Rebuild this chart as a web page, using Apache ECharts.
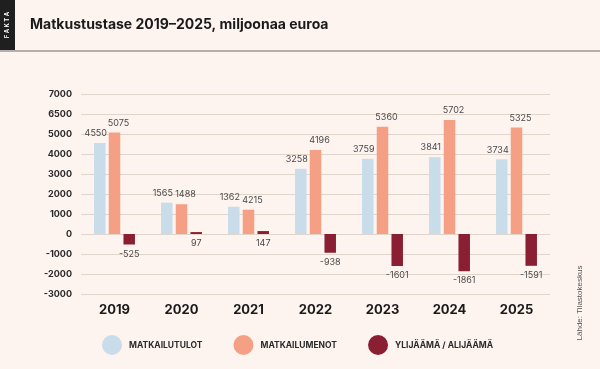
<!DOCTYPE html>
<html>
<head>
<meta charset="utf-8">
<script src="https://cdn.jsdelivr.net/npm/echarts@6/dist/echarts.min.js"></script>
<style>
html,body{margin:0;padding:0;background:#fdf4f0;}
#c{width:600px;height:369px;}
</style>
</head>
<body>
<div id="c"></div>
<script>
const years = ['2019','2020','2021','2022','2023','2024','2025'];
const tulot = [4550,1565,1362,3258,3759,3841,3734];
const menot = [5075,1488,1215,4196,5360,5702,5325];
const menotLabels = ['5075','1488','4215','4196','5360','5702','5325'];
const saldo = [-525,97,147,-938,-1601,-1861,-1591];
const yTickLabels = ['-3000','-2000','-1000','0','1000','2000','3000','4000','5000','6500','7000'];
const seriesNames = ['MATKAILUTULOT','MATKAILUMENOT','YLIJÄÄMÄ / ALIJÄÄMÄ'];
const colors = ['#c8dcea','#f5a085','#8a1f33'];

const chart = echarts.init(document.getElementById('c'));
const labelStyle = {color:'#4a4a4a', fontSize:9, fontFamily:'Inter'};
chart.setOption({
  backgroundColor:'#fdf4f0',
  animation:false,
  color:colors,
  graphic:[
    {type:'rect', shape:{x:0,y:0,width:15,height:50}, style:{fill:'#1f1f1f'}},
    {type:'text', x:7.5, y:25, rotation:Math.PI/2, style:{text:'F A K T A', fill:'#fff', font:'bold 6px Inter', align:'center', verticalAlign:'middle'}},
    {type:'text', x:30, y:25, style:{text:'Matkustustase 2019–2025, miljoonaa euroa', fill:'#1a1a1a', font:'bold 14px Inter', verticalAlign:'middle'}},
    {type:'line', shape:{x1:0,y1:51,x2:600,y2:51}, style:{stroke:'#6a6a6a', lineWidth:1}},
    {type:'text', x:580, y:303, rotation:Math.PI/2, style:{text:'Lähde: Tilastokeskus', fill:'#555', font:'8px "Liberation Sans"', align:'center', verticalAlign:'middle'}}
  ],
  legend:{
    left:102, top:335, padding:0, itemWidth:20, itemHeight:20, itemGap:31, icon:'circle',
    textStyle:{fontFamily:'Inter', fontWeight:'bold', fontSize:8.5, color:'#2a2a2a', padding:[0,0,0,2]},
    data:seriesNames
  },
  grid:{left:81, right:50, top:94, bottom:75},
  xAxis:{
    type:'category', data:years,
    axisLine:{show:false}, axisTick:{show:false},
    axisLabel:{color:'#1a1a1a', fontWeight:'bold', fontSize:13, fontFamily:'Inter', margin:10}
  },
  yAxis:{
    type:'value', min:-3000, max:7000, interval:1000,
    axisLine:{show:false}, axisTick:{show:false},
    splitLine:{lineStyle:{color:'#e0d5ca', width:1}},
    axisLabel:{color:'#2a2a2a', fontWeight:'bold', fontSize:9, fontFamily:'Inter', margin:9,
      formatter:(v)=>{const i=Math.round((v+3000)/1000); return yTickLabels[i];}}
  },
  series:[
    {name:seriesNames[0], type:'bar', data:tulot, barWidth:11.5, barGap:'28%',
     label:{show:true, position:'top', offset:[-4,0], ...labelStyle}},
    {name:seriesNames[1], type:'bar', data:menot, barWidth:11.5, barGap:'28%',
     label:{show:true, position:'top', offset:[4,0], ...labelStyle, formatter:(p)=>menotLabels[p.dataIndex]}},
    {name:seriesNames[2], type:'bar', data:saldo, barWidth:11.5, barGap:'28%',
     label:{show:true, position:'bottom', offset:[0,0], ...labelStyle}}
  ]
});
</script>
</body>
</html>
